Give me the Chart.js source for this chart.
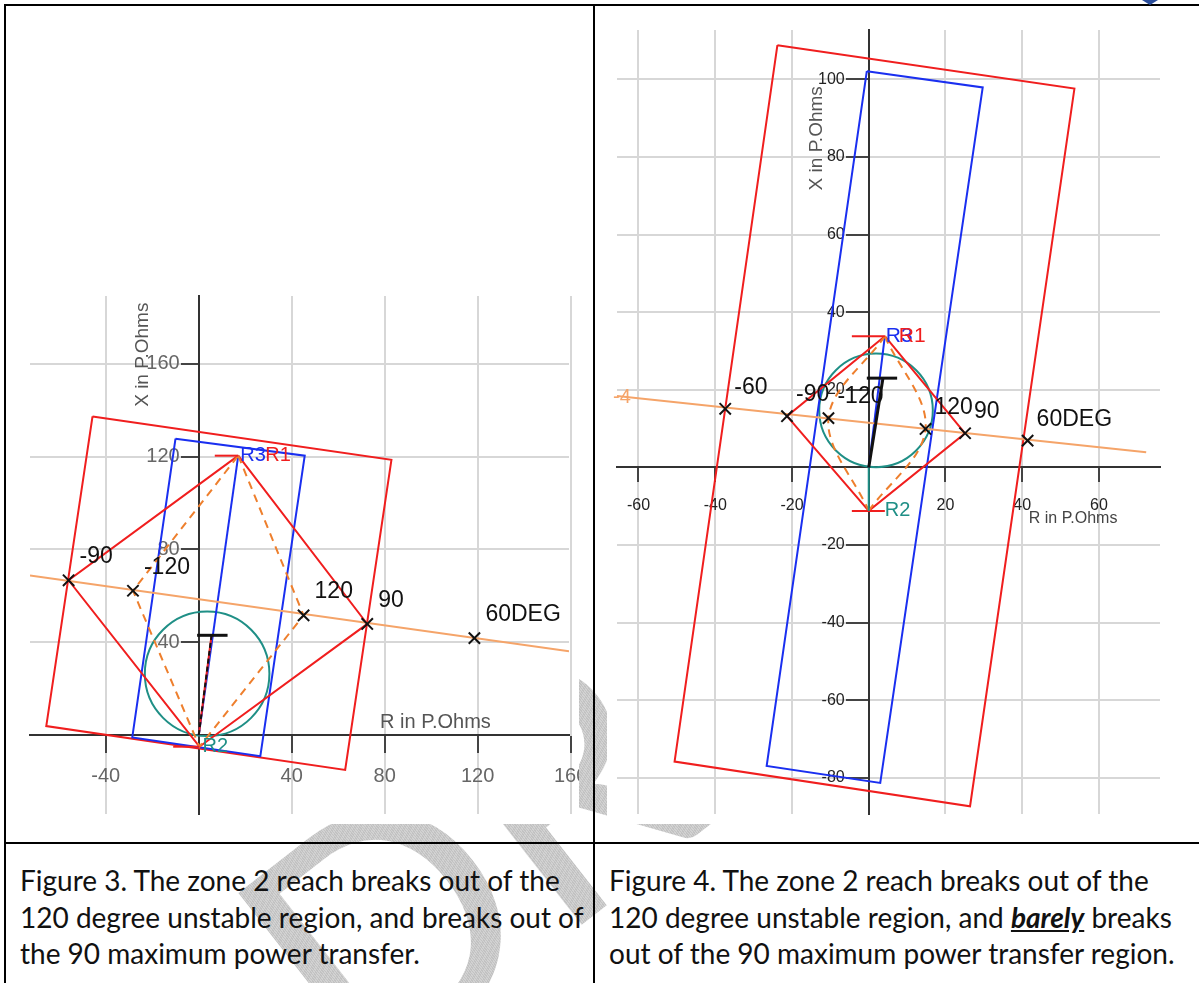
<!DOCTYPE html>
<html>
<head>
<meta charset="utf-8">
<script src="https://cdn.jsdelivr.net/npm/chart.js@4.4.0/dist/chart.umd.min.js"></script>
<style>
  body { margin: 0; background: #fff; }
  #page { position: relative; width: 1199px; height: 983px; overflow: hidden; background: #fff; }
  .wm {
    position: absolute; left: 700px; top: 670px; z-index: 0;
    transform: translate(-50%, -50%) rotate(-38deg);
    font: 400 330px Lato, sans-serif; white-space: nowrap;
    color: transparent;
    background: repeating-linear-gradient(90deg, #c2c2c2 0 1px, #d2d2d2 1px 2px);
    -webkit-background-clip: text; background-clip: text;
  }
  canvas { position: absolute; background: #fff; z-index: 1; }
  .rule { position: absolute; background: #000; z-index: 2; }
  .cap { position: absolute; z-index: 2; font: 28px Lato, 'Open Sans', sans-serif; line-height: 36.5px; color: #111; white-space: nowrap; }
  .logo { position: absolute; left: 1142px; top: 0; width: 0; height: 0; border-left: 8px solid transparent; border-right: 8px solid transparent; border-top: 5px solid #2a4d9b; z-index: 3; }
</style>
</head>
<body>
<div id="page">
  <div class="wm">DRAFT</div>
  <canvas id="fig3" width="559" height="538" style="left:20px;top:286px"></canvas>
  <canvas id="fig4" width="563" height="804" style="left:607px;top:20px"></canvas>
  <div class="rule" style="left:4px;top:4px;width:1195px;height:2px"></div>
  <div class="rule" style="left:4px;top:4px;width:2px;height:979px"></div>
  <div class="rule" style="left:593px;top:4px;width:2px;height:979px"></div>
  <div class="rule" style="left:4px;top:842px;width:1195px;height:2px"></div>
  <div class="logo"></div>
  <div class="cap" style="left:20px;top:862px">Figure 3. The zone 2 reach breaks out of the<br>120 degree unstable region, and breaks out of<br>the 90 maximum power transfer.</div>
  <div class="cap" style="left:609px;top:862px">Figure 4. The zone 2 reach breaks out of the<br>120 degree unstable region, and <b><i><u>barely</u></i></b> breaks<br>out of the 90 maximum power transfer region.</div>
</div>
<script>
// Figure 3 (left), R / X in primary ohms
const fig3Zone3 = [[-45.7, 137.3], [82.9, 118.6], [63.0, -15.0], [-65.6, 3.9], [-45.7, 137.3]]
const fig3Zone2 = [[-10.0, 127.7], [45.6, 120.4], [26.5, -9.1], [-28.6, -1.0], [-10.0, 127.7]]
const fig3Lens90 = [[17.0, 120.4], [72.5, 47.9], [0.3, -5.0], [-56.0, 66.7], [17.0, 120.4]]
const fig3Lens120 = [[17.0, 120.4], [45.1, 51.6], [0.3, -5.0], [-28.3, 62.2], [17.0, 120.4]]
const fig3Blinder = [[-72.6, 68.8], [159.3, 36.1]]
const fig3LineAngle = [[0, 0], [17.0, 120.4]]
const fig3Mta = [[0, 0], [5.5, 43.0]]
const fig3MtaTick = [[-0.7, 43.0], [12.4, 43.0]]
const fig3R1Tick = [[6.9, 120.4], [17.0, 120.4]]
const fig3R2Tick = [[-11.0, -5.0], [0.3, -5.0]]
const fig3Circle = [3.6, 26.4, 26.8]
const fig3Marks = [[-56.0, 66.7], [-28.3, 62.2], [45.1, 51.6], [72.5, 47.9], [118.6, 41.8]]
const fig3MarkLabels = ['-90', '-120', '120', '90', '60DEG']
const fig3TicksR = [-40, 0, 40, 80, 120, 160]
const fig3TicksX = [0, 40, 80, 120, 160]

// Figure 4 (right)
const fig4Zone3 = [[-23.8, 108.8], [53.6, 97.6], [26.4, -87.3], [-50.6, -75.8], [-23.8, 108.8]]
const fig4Zone2 = [[-0.5, 102.1], [29.7, 97.9], [3.0, -81.3], [-26.6, -76.9], [-0.5, 102.1]]
const fig4Lens90 = [[4.2, 33.8], [25.1, 8.8], [0, -11.2], [-21.3, 13.2], [4.2, 33.8]]
const fig4Lens120Left = [[4.2, 33.8], [-10.5, 12.7], [0, -11.2]]
const fig4Lens120Right = [[4.2, 33.8], [14.8, 9.9], [0, -11.2]]
const fig4Blinder = [[-65.6, 18.4], [72.3, 3.9]]
const fig4LineAngle = [[0, 0], [4.2, 33.8]]
const fig4Mta = [[0, 0], [3.7, 23.0]]
const fig4MtaTick = [[-0.5, 23.0], [7.4, 23.0]]
const fig4R1Tick = [[-4.4, 33.8], [4.2, 33.8]]
const fig4R2Tick = [[-4.4, -11.2], [4.2, -11.2]]
const fig4R2Stem = [[0, 0], [0, -11.2]]
const fig4Circle = [1.9, 14.7, 14.8]
const fig4Marks = [[-37.4, 15.1], [-21.3, 13.2], [-10.5, 12.7], [14.8, 9.9], [25.1, 8.8], [41.4, 6.9]]
const fig4MarkLabels = ['-60', '-90', '-120', '120', '90', '60DEG']
const fig4TicksR = [-60, -40, -20, 0, 20, 40, 60]
const fig4TicksX = [-80, -60, -40, -20, 0, 20, 40, 60, 80, 100]

const RED = '#f01e1e', BLUE = '#1a2ff0', ORANGE = '#f5a469', ORANGE_DASH = '#ee7f2d', TEAL = '#1f8f86', INK = '#111'
const SANS = "'Liberation Sans', Arial, sans-serif"

const pts = arr => arr.map(([x, y]) => ({ x, y }))
const line = (arr, color, extra) => Object.assign({
  data: pts(arr), showLine: true, borderColor: color, borderWidth: 2,
  pointRadius: 0, fill: false, tension: 0
}, extra)
const marks = arr => ({
  data: pts(arr), showLine: false, pointStyle: 'crossRot', pointRadius: 8,
  borderColor: INK, borderWidth: 2
})

// circles and free text drawn in data units through the chart scales
const overlay = {
  id: 'overlay',
  beforeDraw(chart) {
    // y axis sits at x = 0: move its labels left of the tick marks
    const s = chart.scales.y
    const items = s.getLabelItems()
    if (items._shifted) return
    const shift = s.options.grid.tickLength + s.options.ticks.padding
    items.forEach(it => { it.options.translation[0] -= shift })
    items._shifted = true
  },
  beforeDatasetsDraw(chart, args, opts) {
    const { ctx, scales: { x, y } } = chart
    ;(opts.circles || []).forEach(([cx, cy, r, color]) => {
      const px = x.getPixelForValue(cx), py = y.getPixelForValue(cy)
      const pr = Math.abs(x.getPixelForValue(cx + r) - px)
      ctx.save()
      ctx.beginPath()
      ctx.arc(px, py, pr, 0, Math.PI * 2)
      ctx.strokeStyle = color
      ctx.lineWidth = 2
      ctx.stroke()
      ctx.restore()
    })
  },
  afterDatasetsDraw(chart, args, opts) {
    const { ctx, scales: { x, y } } = chart
    ;(opts.texts || []).forEach(t => {
      ctx.save()
      ctx.font = t.font
      ctx.fillStyle = t.color
      ctx.textAlign = t.align || 'left'
      ctx.textBaseline = t.baseline || 'alphabetic'
      ctx.translate(x.getPixelForValue(t.x) + (t.dx || 0), y.getPixelForValue(t.y) + (t.dy || 0))
      if (t.rot) ctx.rotate(t.rot)
      ctx.fillText(t.text, 0, 0)
      ctx.restore()
    })
  }
}

const noPad = s => { s.paddingLeft = 0; s.paddingRight = 0; s.paddingTop = 0; s.paddingBottom = 0 }

function makeChart(id, c) {
  const tickOpts = {
    callback: v => (v === 0 ? '' : v), font: { family: SANS, size: c.tickSize },
    color: c.tickColor, autoSkip: false, maxRotation: 0
  }
  return new Chart(document.getElementById(id), {
    type: 'scatter',
    data: { datasets: c.datasets },
    options: {
      responsive: false, animation: false, devicePixelRatio: 1,
      layout: { padding: 0 },
      plugins: { legend: { display: false }, tooltip: { enabled: false }, overlay: { circles: c.circles, texts: c.texts } },
      scales: {
        x: {
          type: 'linear', min: c.xMin, max: c.xMax, position: { y: 0 },
          afterBuildTicks: s => { s.ticks = c.xTicks.map(v => ({ value: v })) },
          afterFit: noPad,
          grid: { color: '#d7d7d7', lineWidth: 2, tickColor: '#444', tickWidth: 2, tickLength: c.xTickLen },
          border: { color: '#333', width: 2 },
          ticks: Object.assign({ padding: c.xPad }, tickOpts)
        },
        y: {
          type: 'linear', min: c.yMin, max: c.yMax, position: { x: 0 },
          afterBuildTicks: s => { s.ticks = c.yTicks.map(v => ({ value: v })) },
          afterFit: noPad,
          grid: { color: '#d7d7d7', lineWidth: 2, tickColor: '#444', tickWidth: 2, tickLength: c.yTickLen },
          border: { color: '#333', width: 2 },
          ticks: Object.assign({ padding: 2 }, tickOpts)
        }
      }
    },
    plugins: [overlay]
  })
}

const markTexts = (arr, labels, dx, dy) => arr.map(([x, y], i) => ({
  x, y, text: labels[i], dx, dy, color: INK, font: '23px ' + SANS
}))

makeChart('fig3', {
  xMin: -72.6, xMax: 159.3, yMin: -34.0, yMax: 189.2,
  xTicks: fig3TicksR, yTicks: fig3TicksX,
  tickSize: 20, tickColor: '#666', xTickLen: 17, yTickLen: 17, xPad: 12,
  circles: [fig3Circle.concat(TEAL)],
  datasets: [
    marks(fig3Marks),
    line(fig3MtaTick, INK, { borderWidth: 3 }),
    line(fig3Mta, INK, { borderDash: [5, 3] }),
    line(fig3Mta, RED),
    line(fig3R1Tick, RED),
    line(fig3R2Tick, RED),
    line(fig3Lens120, ORANGE_DASH, { borderDash: [8, 6] }),
    line(fig3Lens90, RED),
    line(fig3Blinder, ORANGE),
    line(fig3LineAngle, BLUE),
    line(fig3Zone2, BLUE),
    line(fig3Zone3, RED)
  ],
  texts: markTexts(fig3Marks, fig3MarkLabels, 11, -17).concat([
    { x: fig3LineAngle[1][0], y: fig3LineAngle[1][1], text: 'R3', dx: 2, baseline: 'middle', color: BLUE, font: '20px ' + SANS },
    { x: fig3LineAngle[1][0], y: fig3LineAngle[1][1], text: 'R1', dx: 27, baseline: 'middle', color: RED, font: '20px ' + SANS },
    { x: fig3R2Tick[1][0], y: fig3R2Tick[1][1], text: 'R2', dx: 3, baseline: 'middle', color: TEAL, font: '20px ' + SANS },
    { x: -24.1, y: 163.9, text: 'X in P.Ohms', rot: -Math.PI / 2, align: 'center', baseline: 'middle', color: '#555', font: '19px ' + SANS },
    { x: 78.0, y: 5.4, text: 'R in P.Ohms', baseline: 'middle', color: '#555', font: '20px ' + SANS }
  ])
})

makeChart('fig4', {
  xMin: -65.6, xMax: 75.9, yMin: -89.3, yMax: 112.7,
  xTicks: fig4TicksR, yTicks: fig4TicksX,
  tickSize: 16, tickColor: '#222', xTickLen: 14, yTickLen: 22, xPad: 15,
  circles: [fig4Circle.concat(TEAL)],
  datasets: [
    marks(fig4Marks),
    line(fig4MtaTick, INK, { borderWidth: 3 }),
    line(fig4Mta, INK, { borderWidth: 3 }),
    line(fig4R2Stem, TEAL),
    line(fig4R1Tick, RED),
    line(fig4R2Tick, RED),
    line(fig4Lens120Left, ORANGE_DASH, { borderDash: [8, 6], tension: 0.35 }),
    line(fig4Lens120Right, ORANGE_DASH, { borderDash: [8, 6], tension: 0.35 }),
    line(fig4Lens90, RED),
    line(fig4Blinder, ORANGE),
    line(fig4LineAngle, BLUE),
    line(fig4Zone2, BLUE),
    line(fig4Zone3, RED)
  ],
  texts: markTexts(fig4Marks, fig4MarkLabels, 9, -15).concat([
    { x: fig4LineAngle[1][0], y: fig4LineAngle[1][1], text: 'R3', dx: 1, baseline: 'middle', color: BLUE, font: '21px ' + SANS },
    { x: fig4LineAngle[1][0], y: fig4LineAngle[1][1], text: 'R1', dx: 14, baseline: 'middle', color: RED, font: '21px ' + SANS },
    { x: fig4R2Tick[1][0], y: fig4R2Tick[1][1], text: 'R2', dx: 0, baseline: 'middle', color: TEAL, font: '20px ' + SANS },
    { x: fig4Blinder[0][0], y: fig4Blinder[0][1], text: '-4', dx: -4, dy: 7, color: ORANGE, font: '20px ' + SANS },
    { x: -13.6, y: 84.8, text: 'X in P.Ohms', rot: -Math.PI / 2, align: 'center', baseline: 'middle', color: '#555', font: '19px ' + SANS },
    { x: 41.7, y: -13.2, text: 'R in P.Ohms', baseline: 'middle', color: '#444', font: '16px ' + SANS }
  ])
})
</script>
</body>
</html>
